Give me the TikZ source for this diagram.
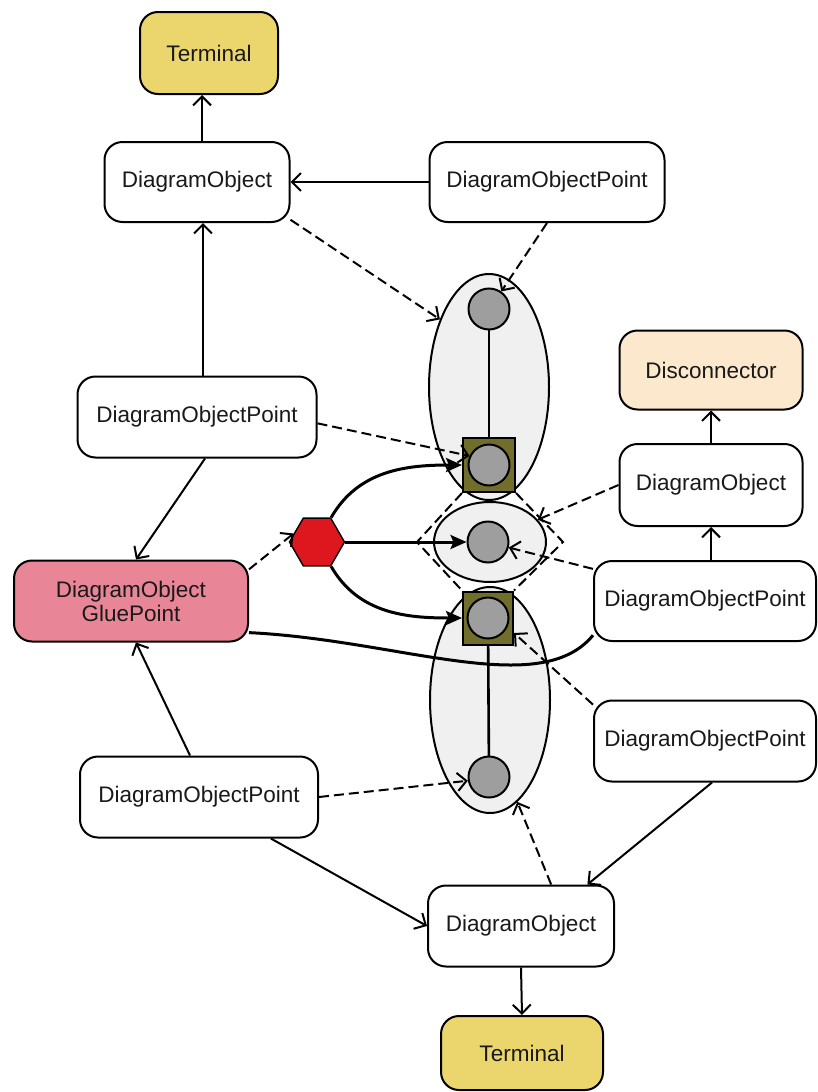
\documentclass[tikz,border=0pt]{standalone}
\usepackage{fontspec}
\setmainfont{Liberation Sans}
\usetikzlibrary{shapes.geometric,arrows.meta,calc}
\definecolor{termY}{RGB}{235,214,110}
\definecolor{glueP}{RGB}{232,134,152}
\definecolor{discO}{RGB}{252,232,205}
\definecolor{oliveSq}{RGB}{112,110,42}
\definecolor{hexR}{RGB}{222,22,30}
\definecolor{ptG}{RGB}{158,158,158}
\definecolor{ellG}{RGB}{240,240,240}
\begin{document}
\begin{tikzpicture}[x=1pt,y=1pt,
  box/.style={draw=black, line width=2pt, rounded corners=18pt, fill=white, align=center,
    font=\fontsize{22.5}{24}\selectfont, inner sep=0pt, text=black!90},
  arr/.style={line width=2pt, -{Straight Barb[length=9pt,width=18pt]}},
  darr/.style={arr, dash pattern=on 10pt off 5pt},
  dline/.style={line width=2pt, dash pattern=on 10pt off 5pt},
  farr/.style={line width=3pt, -{Stealth[length=16pt,width=14pt,inset=3pt]}},
  ell/.style={ellipse, draw=black, line width=2pt, fill=ellG, inner sep=0pt},
  pt/.style={circle, draw=black, line width=2pt, fill=ptG, minimum size=41pt, inner sep=0pt},
  sq/.style={rectangle, draw=black, line width=2pt, fill=oliveSq, inner sep=0pt}
]
\useasboundingbox (0,0) rectangle (818,-1092);

% boxes
\node[box, fill=termY, minimum width=138pt, minimum height=82pt] (term1) at (209,-53) {Terminal};
\node[box, minimum width=185pt, minimum height=80pt] (do1) at (197,-182) {DiagramObject};
\node[box, minimum width=235pt, minimum height=80pt] (dop1) at (547,-182) {DiagramObjectPoint};
\node[box, minimum width=239pt, minimum height=81pt] (dop2) at (197,-417) {DiagramObjectPoint};
\node[box, fill=discO, minimum width=183pt, minimum height=79pt] (disc) at (711,-370) {Disconnector};
\node[box, minimum width=183pt, minimum height=82pt] (do2) at (711,-485) {DiagramObject};
\node[box, minimum width=222pt, minimum height=80pt] (dop3) at (705,-601) {DiagramObjectPoint};
\node[box, fill=glueP, minimum width=234pt, minimum height=81pt] (glue) at (131,-601) {DiagramObject\\GluePoint};
\node[box, minimum width=222pt, minimum height=81pt] (dop4) at (705,-741) {DiagramObjectPoint};
\node[box, minimum width=238pt, minimum height=81pt] (dop5) at (199,-797) {DiagramObjectPoint};
\node[box, minimum width=186pt, minimum height=81pt] (do3) at (521,-926) {DiagramObject};
\node[box, fill=termY, minimum width=162pt, minimum height=74pt] (term2) at (522,-1053) {Terminal};

% ellipses
\node[ell, minimum width=120pt, minimum height=226pt] (ell1) at (489,-387) {};
\node[ell, minimum width=112pt, minimum height=80pt] (ell2) at (490,-542) {};
\node[ell, minimum width=120pt, minimum height=226pt] (ell3) at (490,-700) {};

% point coordinates
\coordinate (p1) at (489,-309);
\coordinate (p2) at (489,-465);
\coordinate (p3) at (488,-542);
\coordinate (p4) at (488,-618);
\coordinate (p5) at (489,-777);
\draw[line width=2.6pt] (p1) -- (p2);
\draw[line width=2.6pt] (p4) -- (p5);

\node[sq, minimum width=52pt, minimum height=54pt] (sq2) at (p2) {};
\node[sq, minimum width=50pt, minimum height=53pt] (sq4) at (p4) {};
\node[pt] (c1) at (p1) {};
\node[pt] (c2) at (p2) {};
\node[pt] (c3) at (p3) {};
\node[pt] (c4) at (p4) {};
\node[pt] (c5) at (p5) {};

% dashed chevrons
\coordinate (chl) at (417,-542);
\coordinate (chr) at (563,-542);
\draw[dline] (sq2.south west) -- (chl) -- (sq4.north west);
\draw[dline] (sq2.south east) -- (chr) -- (sq4.north east);

% hexagon
\node[regular polygon, regular polygon sides=6, minimum size=55pt, inner sep=0pt,
      fill=hexR, draw=black, line width=1.4pt] (hex) at (317,-542) {};

% solid connectors
\draw[arr] ($(do1.north)+(5,0)$) -- ($(term1.south)+(-7,0)$);
\draw[arr] (dop1.west) -- (do1.east);
\draw[arr] ($(dop2.north)+(6,0)$) -- ($(do1.south)+(6,0)$);
\draw[arr] ($(dop2.south)+(8,0)$) -- ($(glue.north)+(5,0)$);
\draw[arr] ($(dop5.north)+(-9,0)$) -- ($(glue.south)+(5,0)$);
\draw[arr] (dop5.-30) -- (do3.west);
\draw[arr] ($(dop4.south)+(7,0)$) -- (do3.32);
\draw[arr] (do3.south) -- (term2.north);
\draw[arr] (dop3.north -| do2.south) -- (do2.south);
\draw[arr] (do2.north) -- (disc.south);

% dashed connectors
\draw[darr] (do1.-22) -- (ell1.126);
\draw[darr] (dop1.south) -- (c1.55);
\draw[darr] (dop2.-3) -- (c2.155);
\draw[darr] (glue.15) -- (hex.160);
\draw[darr] (do2.west) -- (ell2.25);
\draw[darr] (dop3.164) -- (c3.-15);
\draw[darr] (dop4.162) -- (sq4.-30);
\draw[darr] (do3.54) -- (ell3.-75);
\draw[darr] (dop5.east) -- (c5.190);

% hexagon arrows
\draw[farr] (hex.60) to[out=60,in=180] (sq2.west);
\draw[farr] (hex.east) -- (c3.west);
\draw[farr] (hex.-60) to[out=-60,in=180] (sq4.west);

% glue curve
\draw[line width=3pt] (glue.-15) .. controls (400,-640) and (540,-700) .. (dop3.197);
\end{tikzpicture}
\end{document}
